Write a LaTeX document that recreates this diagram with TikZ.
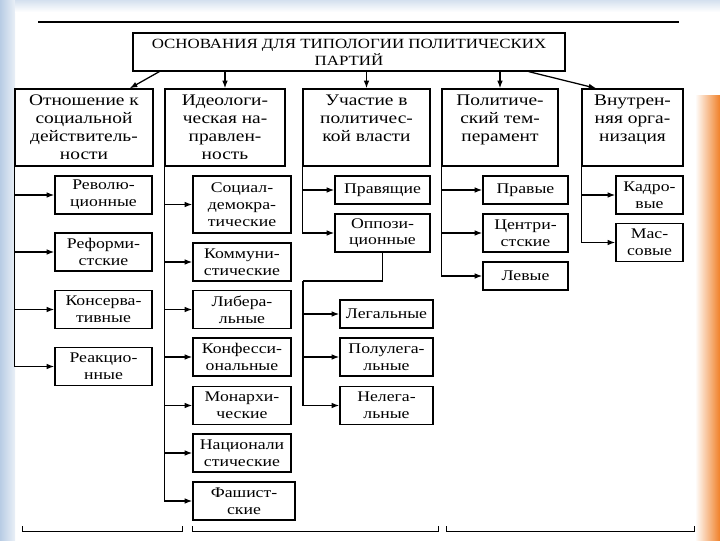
\documentclass[tikz,border=0pt]{standalone}
\usepackage{fontspec}
\setmainfont{Liberation Serif}[FakeStretch=1.2]
\usetikzlibrary{calc}
\usetikzlibrary{arrows.meta}
\definecolor{slideblue}{RGB}{184,204,228}
\definecolor{slideorange}{RGB}{240,128,40}

\begin{document}
\begin{tikzpicture}[x=0.025cm,y=-0.025cm,line width=0.9pt,
head/.style={draw,align=center,inner sep=2pt,minimum height=1.925cm,font=\fontsize{11.5}{12.8}\selectfont},
kind/.style={draw,align=center,inner sep=1pt,minimum height=0.95cm,font=\fontsize{10.5}{12}\selectfont},
arr/.style={-{Latex[length=5.5pt,width=4pt]}}]
%\tikzstyle{every node}=[draw]

% slide
\fill[white] (0,0) rectangle (720,540);
\shade[left color=slideblue,right color=slideblue!30] (0,0) rectangle (15,540);
\shade[top color=slideblue!60,bottom color=white] (15,0) rectangle (720,12);
\shade[left color=white,right color=slideorange] (695,95) rectangle (720,540);

\draw[line width=1.8pt] (38,22) -- (679,22);

\node (Root) [draw,align=center,minimum width=10.8cm,minimum height=0.95cm,font=\fontsize{10}{12}\selectfont]
  at (349,52) {ОСНОВАНИЯ ДЛЯ ТИПОЛОГИИ ПОЛИТИЧЕСКИХ\\ПАРТИЙ};

\node[head,minimum width=3.45cm] (q0) at (84,127.5) {Отношение к\\социальной\\действитель-\\ности};
\node[head,minimum width=3cm] (q1) at (225,127.5) {Идеологи-\\ческая на-\\правлен-\\ность};
\node[head,minimum width=3.175cm] (q2) at (366.5,127.5) {Участие в\\политичес-\\кой власти\\ \mbox{}};
\node[head,minimum width=2.9cm] (q3) at (500,127.5) {Политиче-\\ский тем-\\перамент\\ \mbox{}};
\node[head,minimum width=2.525cm] (q4) at (632.5,127.5) {Внутрен-\\няя орга-\\низация\\ \mbox{}};

\draw[arr] ($(Root.south west)+(27,0)$) -- ($(q0.north east)+(-24,0)$);
\draw[arr] (Root.south -| q1.north) -- (q1.north);
\draw[arr] (Root.south -| q2.north) -- (q2.north);
\draw[arr] (Root.south -| q3.north) -- (q3.north);
\draw[arr] ($(Root.south east)+(-37,0)$) -- ($(q4.north west)+(15,0)$);

% relation to social reality
\node[kind,minimum width=2.425cm] (q00) at (103.5,195) {Револю-\\ционные};
\node[kind,minimum width=2.425cm] (q01) at (103.5,252) {Реформи-\\стские};
\node[kind,minimum width=2.425cm] (q02) at (103.5,309.5) {Консерва-\\тивные};
\node[kind,minimum width=2.425cm] (q03) at (103.5,366.5) {Реакцио-\\нные};
\foreach \k in {q00,q01,q02,q03}
  \draw[arr] (q0.south west) |- (\k.west);

% ideology
\node[kind,minimum width=2.45cm,minimum height=1.425cm] (q10) at (242,204.5) {Социал-\\демокра-\\тические};
\node[kind,minimum width=2.45cm] (q11) at (242,262) {Коммуни-\\стические};
\node[kind,minimum width=2.45cm] (q12) at (242,309.5) {Либера-\\льные};
\node[kind,minimum width=2.45cm] (q13) at (242,357) {Конфесси-\\ональные};
\node[kind,minimum width=2.45cm] (q14) at (242,405.5) {Монархи-\\ческие};
\node[kind,minimum width=2.45cm] (q15) at (242,453) {Национали\\стические};
\node[kind,minimum width=2.55cm] (q16) at (244,501) {Фашист-\\ские};
\foreach \k in {q10,q11,q12,q13,q14,q15,q16}
  \draw[arr] (q1.south west) |- (\k.west);

% power
\node[kind,minimum width=2.375cm,minimum height=0.7cm] (q20) at (382.5,190) {Правящие};
\node[kind,minimum width=2.375cm] (q21) at (382.5,233) {Оппози-\\ционные};
\foreach \k in {q20,q21}
  \draw[arr] (q2.south west) |- (\k.west);
\coordinate (c21) at (303,281);
\draw (q21.south) |- (c21);
\node[kind,minimum width=2.325cm,minimum height=0.7cm] (q210) at (386.5,314) {Легальные};
\node[kind,minimum width=2.325cm] (q211) at (386.5,357) {Полулега-\\льные};
\node[kind,minimum width=2.325cm] (q212) at (386.5,405.5) {Нелега-\\льные};
\foreach \k in {q210,q211,q212}
  \draw[arr] (c21) |- (\k.west);

% temperament
\node[kind,minimum width=2.125cm,minimum height=0.7cm] (q30) at (525.5,190) {Правые};
\node[kind,minimum width=2.125cm] (q31) at (525.5,233) {Центри-\\стские};
\node[kind,minimum width=2.125cm,minimum height=0.7cm] (q32) at (525.5,276) {Левые};
\foreach \k in {q30,q31,q32}
  \draw[arr] (q3.south west) |- (\k.west);

% organisation
\node[kind,minimum width=1.675cm] (q40) at (649.5,195) {Кадро-\\вые};
\node[kind,minimum width=1.675cm] (q41) at (649.5,242.5) {Мас-\\совые};
\foreach \k in {q40,q41}
  \draw[arr] (q4.south west) |- (\k.west);

% page edge
\draw[line width=0.6pt] (22,526) -- (22,531) -- (182,531) -- (182,526);
\draw[line width=0.6pt] (192,526) -- (192,531) -- (438,531) -- (438,526);
\draw[line width=0.6pt] (446,526) -- (446,531) -- (694,531) -- (694,526);
\end{tikzpicture}
\end{document}
